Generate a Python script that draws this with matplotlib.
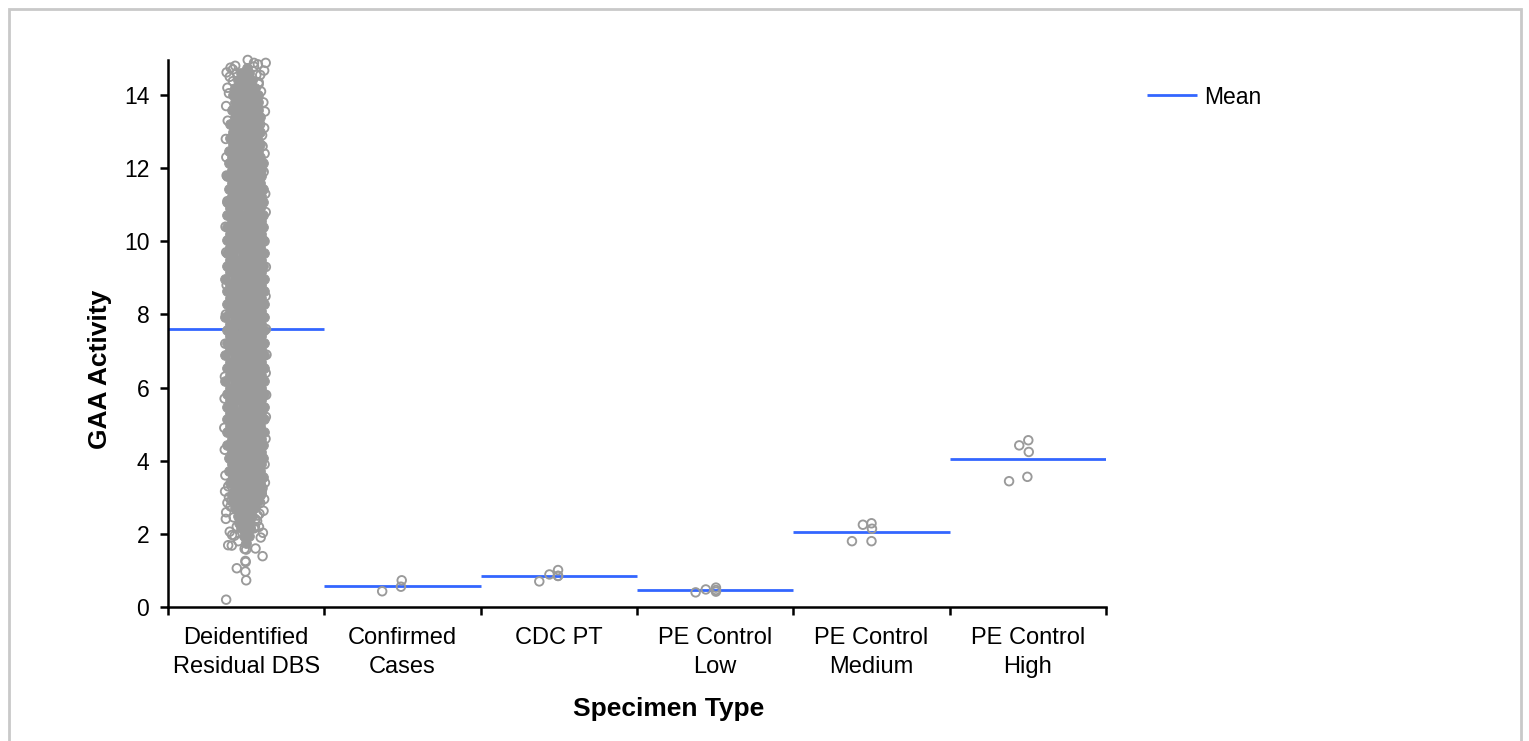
import matplotlib
matplotlib.use("Agg")
import matplotlib.pyplot as plt
from matplotlib.patches import Rectangle

plt.rcParams['font.family'] = ['Liberation Sans', 'DejaVu Sans']

categories = ["Deidentified\nResidual DBS", "Confirmed\nCases", "CDC PT",
              "PE Control\nLow", "PE Control\nMedium", "PE Control\nHigh"]
means = [7.6, 0.57, 0.86, 0.455, 2.06, 4.05]
y_ticks = [0, 2, 4, 6, 8, 10, 12, 14]

# Small groups: (category position, activity)
group_x = [1.87, 1.99, 1.995,
           2.875, 2.94, 2.995, 2.995, 2.995,
           3.875, 3.94, 4.005, 4.005, 4.005,
           4.875, 4.945, 5.0, 5.003, 5.0,
           5.88, 5.945, 6.003, 6.006, 5.997]
group_y = [0.43, 0.555, 0.73,
           0.70, 0.89, 1.01, 0.85, 0.85,
           0.40, 0.48, 0.53, 0.465, 0.42,
           1.80, 2.25, 2.29, 2.14, 1.80,
           3.44, 4.42, 4.56, 4.24, 3.56]

# Deidentified residual DBS: individually visible open circles at the fringes (offset from category, activity)
fringe_off = [-0.128, 0.0, -0.06, -0.005, -0.005, -0.003, 0.105, 0.06, -0.01, 0.0, -0.115, -0.092,
              0.093, 0.107, 0.082, 0.056, -0.105, -0.09, -0.05, -0.13, -0.128, -0.135, 0.111, 0.074,
              -0.12, 0.115, 0.12, 0.118, -0.133, -0.137, 0.124, 0.126, -0.14, -0.138, 0.128, 0.125,
              -0.136, 0.13, -0.134, 0.127, -0.13, 0.124, -0.125, 0.126, -0.128, 0.118, -0.132, 0.125,
              -0.12, 0.122, -0.125, 0.112, -0.127, 0.118, -0.13, 0.102, -0.118, 0.115, -0.128, 0.11,
              -0.12, 0.08, 0.125, 0.115, 0.05, 0.01, 0.065, 0.12, -0.105, -0.125, 0.075, 0.095,
              -0.11, -0.085, 0.09, 0.105,
              -0.08, 0.07, -0.1, 0.09, -0.06, 0.05, -0.11, 0.1, -0.075, 0.085, -0.095, 0.06,
              -0.115, 0.105, -0.07, 0.08, -0.1, -0.085, -0.06, 0.05, 0.09]
fringe_y = [0.20, 0.73, 1.06, 0.97, 1.26, 1.23, 1.39, 1.60, 1.59, 1.57, 1.69, 1.68,
            1.90, 2.03, 2.19, 2.19, 2.06, 1.97, 1.80, 2.41, 2.59, 3.16, 2.63, 2.50,
            2.85, 2.95, 3.4, 3.9, 3.6, 4.3, 4.6, 5.2, 4.9, 5.7, 5.8, 6.4, 6.3, 6.9, 7.2, 7.6,
            8.0, 8.5, 8.8, 9.3, 9.7, 10.0, 10.4, 10.8, 11.1, 11.3, 11.8, 11.9, 12.3, 12.4,
            12.8, 12.9, 13.3, 13.1, 13.7, 13.8, 14.2, 14.3, 14.88, 14.67, 14.88, 14.96, 14.55,
            13.55, 14.5, 14.62, 14.84, 14.1, 14.05, 14.38, 13.2, 12.6,
            2.45, 2.35, 2.75, 2.85, 2.2, 2.15, 3.0, 3.1, 1.95, 2.55, 2.9, 2.4,
            3.3, 3.25, 14.8, 14.35, 14.75, 14.7, 14.6, 14.78, 14.55]

# Dense body of the column: activity level and the offsets seen at that level
dbs_levels = [1.75, 1.95, 2.15, 2.3, 2.5, 2.7, 2.9, 3.05, 3.2, 3.38, 3.55, 3.73, 3.9, 4.08, 4.25, 4.43, 4.6, 4.78,
              4.95, 5.13, 5.3, 5.48, 5.65, 5.83, 6.0, 6.18, 6.35, 6.53, 6.7, 6.88, 7.05, 7.23,
              7.4, 7.58, 7.75, 7.93, 8.1, 8.28, 8.45, 8.63, 8.8, 8.98, 9.15, 9.33, 9.5, 9.68,
              9.85, 10.03, 10.2, 10.38, 10.55, 10.73, 10.9, 11.08, 11.25, 11.43, 11.6, 11.78,
              11.95, 12.13, 12.3, 12.48, 12.65, 12.83, 13.0, 13.2, 13.4, 13.6, 13.8, 14.0, 14.2, 14.4, 14.6, 14.75, 14.9]
dbs_offsets = [
    [0.0], [-0.01, 0.02], [-0.03, 0.01, 0.03],
    [-0.04, 0.0, 0.03], [-0.05, -0.01, 0.04], [-0.07, -0.03, 0.01, 0.05], [-0.08, -0.04, 0.01, 0.06, 0.08],
    [-0.09, -0.05, 0.0, 0.05, 0.09], [-0.07, -0.03, 0.02, 0.07, 0.1], [-0.1, -0.05, 0.0, 0.05, 0.09],
    [-0.08, -0.03, 0.02, 0.07, 0.11], [-0.11, -0.06, -0.01, 0.04, 0.09], [-0.09, -0.04, 0.01, 0.06, 0.1],
    [-0.11, -0.06, -0.02, 0.04, 0.08, 0.11], [-0.09, -0.04, 0.01, 0.05, 0.1], [-0.12, -0.07, -0.02, 0.03, 0.08, 0.11],
    [-0.09, -0.05, 0.0, 0.05, 0.1], [-0.12, -0.07, -0.02, 0.03, 0.07, 0.12], [-0.1, -0.05, 0.0, 0.05, 0.09],
    [-0.12, -0.07, -0.03, 0.03, 0.08, 0.12], [-0.1, -0.05, 0.01, 0.05, 0.1], [-0.12, -0.08, -0.02, 0.03, 0.07, 0.12],
    [-0.1, -0.05, 0.0, 0.05, 0.1], [-0.12, -0.07, -0.03, 0.03, 0.08, 0.12], [-0.1, -0.05, 0.0, 0.06, 0.1],
    [-0.13, -0.07, -0.02, 0.03, 0.08, 0.12], [-0.1, -0.05, 0.0, 0.05, 0.1], [-0.12, -0.08, -0.03, 0.03, 0.07, 0.12],
    [-0.1, -0.05, 0.01, 0.05, 0.1], [-0.13, -0.07, -0.02, 0.03, 0.08, 0.12], [-0.1, -0.05, 0.0, 0.05, 0.1],
    [-0.12, -0.07, -0.03, 0.03, 0.07, 0.12], [-0.1, -0.05, 0.0, 0.06, 0.1], [-0.12, -0.08, -0.02, 0.03, 0.08, 0.12],
    [-0.1, -0.05, 0.0, 0.05, 0.1], [-0.13, -0.07, -0.03, 0.03, 0.07, 0.12], [-0.1, -0.05, 0.01, 0.05, 0.1],
    [-0.12, -0.07, -0.02, 0.03, 0.08, 0.12], [-0.1, -0.05, 0.0, 0.05, 0.1], [-0.12, -0.08, -0.03, 0.03, 0.07, 0.12],
    [-0.1, -0.05, 0.0, 0.06, 0.1], [-0.13, -0.07, -0.02, 0.03, 0.08, 0.12], [-0.1, -0.05, 0.0, 0.05, 0.1],
    [-0.12, -0.07, -0.03, 0.03, 0.07, 0.11], [-0.1, -0.05, 0.01, 0.05, 0.1], [-0.12, -0.08, -0.02, 0.03, 0.08, 0.12],
    [-0.1, -0.05, 0.0, 0.05, 0.09], [-0.12, -0.07, -0.03, 0.03, 0.07, 0.11], [-0.1, -0.05, 0.0, 0.06, 0.1],
    [-0.12, -0.07, -0.02, 0.03, 0.08, 0.11], [-0.09, -0.05, 0.0, 0.05, 0.1], [-0.12, -0.08, -0.03, 0.03, 0.07, 0.11],
    [-0.1, -0.05, 0.01, 0.05, 0.09], [-0.12, -0.07, -0.02, 0.03, 0.08, 0.11], [-0.09, -0.05, 0.0, 0.05, 0.1],
    [-0.11, -0.07, -0.03, 0.03, 0.07, 0.11], [-0.09, -0.05, 0.0, 0.06, 0.09], [-0.12, -0.07, -0.02, 0.03, 0.08, 0.1],
    [-0.09, -0.05, 0.0, 0.05, 0.1], [-0.11, -0.07, -0.03, 0.03, 0.07, 0.11], [-0.09, -0.04, 0.01, 0.05, 0.09],
    [-0.11, -0.06, -0.02, 0.03, 0.08], [-0.08, -0.04, 0.0, 0.05, 0.09], [-0.1, -0.06, -0.02, 0.03, 0.07],
    [-0.08, -0.04, 0.01, 0.05, 0.09], [-0.1, -0.05, -0.01, 0.04, 0.08], [-0.07, -0.03, 0.01, 0.06, 0.09],
    [-0.09, -0.05, 0.0, 0.04, 0.08], [-0.07, -0.02, 0.02, 0.06, 0.08], [-0.08, -0.03, 0.01, 0.05, 0.08],
    [-0.07, -0.02, 0.02, 0.06], [-0.05, 0.0, 0.04], [-0.03, 0.02], [0.01],
]

GRAY = "#9a9a9a"
BLUE = "#3366ff"
PX_LABEL_TICK = 16.5
PX_LABEL_CAT = 17
PX_LABEL_AXIS = 19

fig = plt.figure(figsize=(15.29, 7.41), dpi=100, facecolor="white")
fig.add_artist(Rectangle((9 / 1529, -0.05), (1521 - 9) / 1529, 1.05 - 9 / 741,
                         transform=fig.transFigure, fill=False, edgecolor="#c9c9c9", linewidth=2))

ax = fig.add_axes([168 / 1529, (741 - 607) / 741, (1106 - 168) / 1529, (607 - 58.5) / 741])
ax.set_xlim(0.5, 6.5)
ax.set_ylim(0, 15)

for i, m in enumerate(means):
    ax.hlines(m, i + 0.5, i + 1.5, color=BLUE, linewidth=2, zorder=2,
              label="Mean" if i == 0 else None)

core_x, core_y = [], []
for level, offs in zip(dbs_levels, dbs_offsets):
    for o in offs:
        core_x.append(1 + o - 0.003)
        core_y.append(level)
ax.scatter(core_x, core_y, s=50, facecolor=GRAY, edgecolor=GRAY, linewidth=0.6, zorder=3, clip_on=False)
ax.scatter([1 + o for o in fringe_off], fringe_y, s=38, facecolor="none", edgecolor=GRAY,
           linewidth=1.35, zorder=4, clip_on=False)
ax.scatter(group_x, group_y, s=38, facecolor="none", edgecolor=GRAY, linewidth=1.35, zorder=4, clip_on=False)

for s in ("top", "right"):
    ax.spines[s].set_visible(False)
for s in ("left", "bottom"):
    ax.spines[s].set_linewidth(1.8)
ax.spines["left"].set_bounds(0, 14.96)

ax.set_yticks(y_ticks)
ax.set_xticks([0.5 + i for i in range(7)])
ax.set_xticklabels([])
ax.set_xticks(list(range(1, 7)), minor=True)
ax.set_xticklabels(categories, minor=True, linespacing=1.42)
ax.tick_params(axis="x", which="major", length=5.5, width=1.8)
ax.tick_params(axis="x", which="minor", length=0, pad=14.2, labelsize=PX_LABEL_CAT)
ax.tick_params(axis="y", length=5.5, width=1.8, pad=8, labelsize=PX_LABEL_TICK)

ax.set_xlabel("Specimen Type", fontweight="bold", fontsize=PX_LABEL_AXIS)
ax.xaxis.set_label_coords((669 - 168) / 938, -(709 - 607) / 548.5, transform=ax.transAxes)
ax.xaxis.label.set_verticalalignment("center")
ax.set_ylabel("GAA Activity", fontweight="bold", fontsize=PX_LABEL_AXIS)
ax.yaxis.set_label_coords((100 - 168) / 938, (607 - 369) / 548.5, transform=ax.transAxes)
ax.yaxis.label.set_verticalalignment("center")

ax.legend(loc="center left", bbox_to_anchor=(1147 / 1529, (741 - 97) / 741), bbox_transform=fig.transFigure,
          frameon=False, fontsize=PX_LABEL_TICK, handlelength=2.2, handletextpad=0.3, borderpad=0, borderaxespad=0)

fig.savefig("out.png", dpi=100, facecolor="white")
